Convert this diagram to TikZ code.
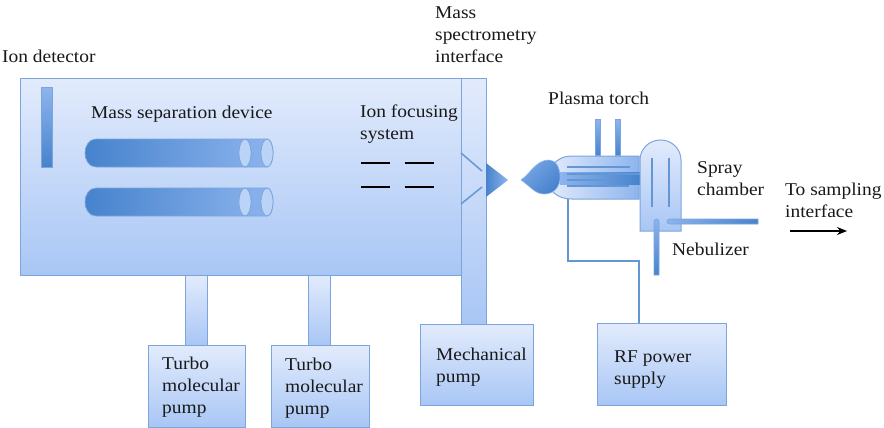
\documentclass[tikz,border=0pt]{standalone}
\usepackage{fontspec}
\setmainfont[FakeStretch=1.08]{Liberation Serif}
\usetikzlibrary{calc,arrows.meta}
\definecolor{edgeblue}{HTML}{7BA5DC}
\definecolor{lightblue}{HTML}{E2EBFC}
\definecolor{midblue}{HTML}{A8C6F5}
\definecolor{darkblue}{HTML}{4683CC}
\definecolor{softblue}{HTML}{8DB4EE}
\definecolor{ringblue}{HTML}{BCD3F8}
\tikzset{
  panel/.style={draw=edgeblue,line width=1pt,top color=lightblue,bottom color=midblue,middle color=lightblue!50!midblue,inner sep=0pt},
  pumpbox/.style={panel,anchor=north west},
  pipe/.style={draw=edgeblue,line width=1pt,top color=lightblue,bottom color=midblue},
  label/.style={anchor=west,align=left,inner sep=0pt,yshift=-1.5pt,font=\fontsize{18}{22}\selectfont,text=black!90},
  tube/.style={draw=edgeblue,line width=.7pt,left color=darkblue,right color=softblue},
  capring/.style={draw=edgeblue,line width=.8pt,fill=ringblue},
  vbar/.style={draw=edgeblue,line width=.6pt,top color=softblue,bottom color=darkblue},
  wire/.style={draw=darkblue!85!white,line width=1.8pt},
  slit/.style={draw=black,line width=1.3pt},
  cone/.style={draw=none,left color=darkblue,right color=softblue},
}
\begin{document}
\begin{tikzpicture}[x=1pt,y=-1pt]
\useasboundingbox (0,0) rectangle (884,428);
\fill[white] (0,0) rectangle (884,428);

% pipes behind
\path[pipe] (185,275) rectangle (207,345);
\path[pipe] (308,275) rectangle (330,345);

% main chamber and interface column
\node[pumpbox,minimum width=441pt,minimum height=197pt] (chamber) at (20,78) {};
\node[pumpbox,minimum width=25pt,minimum height=246pt] (column) at (461,78) {};

% pumps
\node[pumpbox,minimum width=97pt,minimum height=82pt] (tmpa) at (148,345) {};
\node[pumpbox,minimum width=98pt,minimum height=82pt] (tmpb) at (271,345) {};
\node[pumpbox,minimum width=113pt,minimum height=81pt] (mech) at (420,324) {};
\node[pumpbox,minimum width=129pt,minimum height=82pt] (rf) at (597,323) {};

% detector
\node[anchor=north west,vbar,minimum width=11pt,minimum height=80pt,inner sep=0pt] (det) at (41,87) {};

% mass filters
\path[tube] (96,139) -- (267,139) .. controls (271,139) and (273,146) .. (273,153) .. controls (273,160) and (271,167) .. (267,167) -- (96,167) .. controls (89,167) and (85,160) .. (85,153) .. controls (85,146) and (89,139) .. (96,139) -- cycle;
\path[capring] (245,153) ellipse[x radius=6,y radius=14];
\path[capring] (267,153) ellipse[x radius=6,y radius=14];
\path[tube] (96,188) -- (267,188) .. controls (271,188) and (273,195) .. (273,202) .. controls (273,209) and (271,216) .. (267,216) -- (96,216) .. controls (89,216) and (85,209) .. (85,202) .. controls (85,195) and (89,188) .. (96,188) -- cycle;
\path[capring] (245,202) ellipse[x radius=6,y radius=14];
\path[capring] (267,202) ellipse[x radius=6,y radius=14];

% ion focusing
\draw[slit] (361,163) -- (390,163);
\draw[slit] (405,163) -- (434,163);
\draw[slit] (361,187) -- (390,187);
\draw[slit] (405,187) -- (434,187);

% interface cones
\draw[edgeblue!70!darkblue,line width=1.6pt] (461,153) -- (482,171);
\draw[edgeblue!70!darkblue,line width=1.6pt] (461,204) -- (482,187);
\path[cone] (486,163) -- (508,180) -- (486,197) -- cycle;

% torch gas tubes
\node[anchor=north west,vbar,minimum width=5pt,minimum height=36pt,inner sep=0pt] (gasa) at (595,119) {};
\node[anchor=north west,vbar,minimum width=5pt,minimum height=36pt,inner sep=0pt] (gasb) at (615,119) {};

% wire
\coordinate (wirestart) at (568,199);
\coordinate (wirebend) at (639,261);
\coordinate (wireend) at (wirebend |- rf.north);
\draw[wire] (wirestart) |- (wirebend) -- (wireend);

% torch body
\path[draw=edgeblue,line width=1pt,left color=lightblue,right color=softblue] (639,156) -- (572,156) .. controls (558,156) and (552,165) .. (549,171) -- (549,186) .. controls (552,192) and (558,199) .. (572,199) -- (639,199) -- cycle;
\draw[darkblue!85!white,line width=1.5pt] (567,167) -- (630,167);
\draw[darkblue!85!white,line width=1.5pt] (567,186) -- (629,186);
\path[left color=softblue,right color=darkblue] (560,172) rectangle (640,184);
\draw[darkblue!85!white,line width=1.5pt] (567,174) -- (640,174);
\draw[darkblue!85!white,line width=1.5pt] (567,180) -- (610,180);

% flame
\path[draw=softblue,line width=.6pt,shading=axis,left color=softblue!70!darkblue,right color=darkblue,shading angle=45] (521,180) .. controls (530,174) and (536,160) .. (549,160) .. controls (556,160) and (560,168) .. (560,177) .. controls (560,187) and (554,194) .. (544,194) .. controls (535,194) and (530,186) .. (521,180) -- cycle;

% spray chamber
\path[draw=edgeblue,line width=1pt,top color=lightblue,bottom color=midblue] (640,231) -- (640,160) .. controls (640,149) and (649,140) .. (660.5,140) .. controls (672,140) and (681,149) .. (681,160) -- (681,231) -- cycle;
\draw[darkblue!85!white,line width=1.6pt] (652,158) -- (652,207);
\draw[darkblue!85!white,line width=1.6pt] (669,158) -- (669,207);

% nebulizer and sample line
\path[draw=edgeblue,line width=.6pt,top color=softblue,bottom color=darkblue] (654,275) -- (654,222) .. controls (654,220) and (655,219) .. (656.5,219) .. controls (658,219) and (659,220) .. (659,222) -- (659,275) -- cycle;
\path[draw=edgeblue,line width=.6pt,left color=softblue,right color=darkblue] (758,219) -- (670,219) .. controls (668,219) and (667,220) .. (667,221.5) .. controls (667,223) and (668,224) .. (670,224) -- (758,224) -- cycle;

% arrow
\coordinate (arrowstart) at (790,231);
\coordinate (arrowend) at (847,231);
\draw[black,line width=1.6pt,-{Stealth[length=10pt,width=8pt]}] (arrowstart) -- (arrowend);

% labels
\node[label] (tdet) at (2,55) {Ion detector};
\node[label] (tmass) at (91,113) {Mass separation device};
\node[label] (tfocus) at (360,123) {Ion focusing\\system};
\node[label] (tiface) at (435,33) {Mass\\spectrometry\\interface};
\node[label] (ttorch) at (548,97) {Plasma torch};
\node[label] (tspray) at (697,177) {Spray\\chamber};
\node[label] (tsamp) at (785,199) {To sampling\\interface};
\node[label] (tneb) at (672,248) {Nebulizer};
\node[label] (ttmpa) at (162,386) {Turbo\\molecular\\pump};
\node[label] (ttmpb) at (285,387) {Turbo\\molecular\\pump};
\node[label] (tmech) at (436,366) {Mechanical\\pump};
\node[label] (trf) at (614,368) {RF power\\supply};
\end{tikzpicture}
\end{document}
